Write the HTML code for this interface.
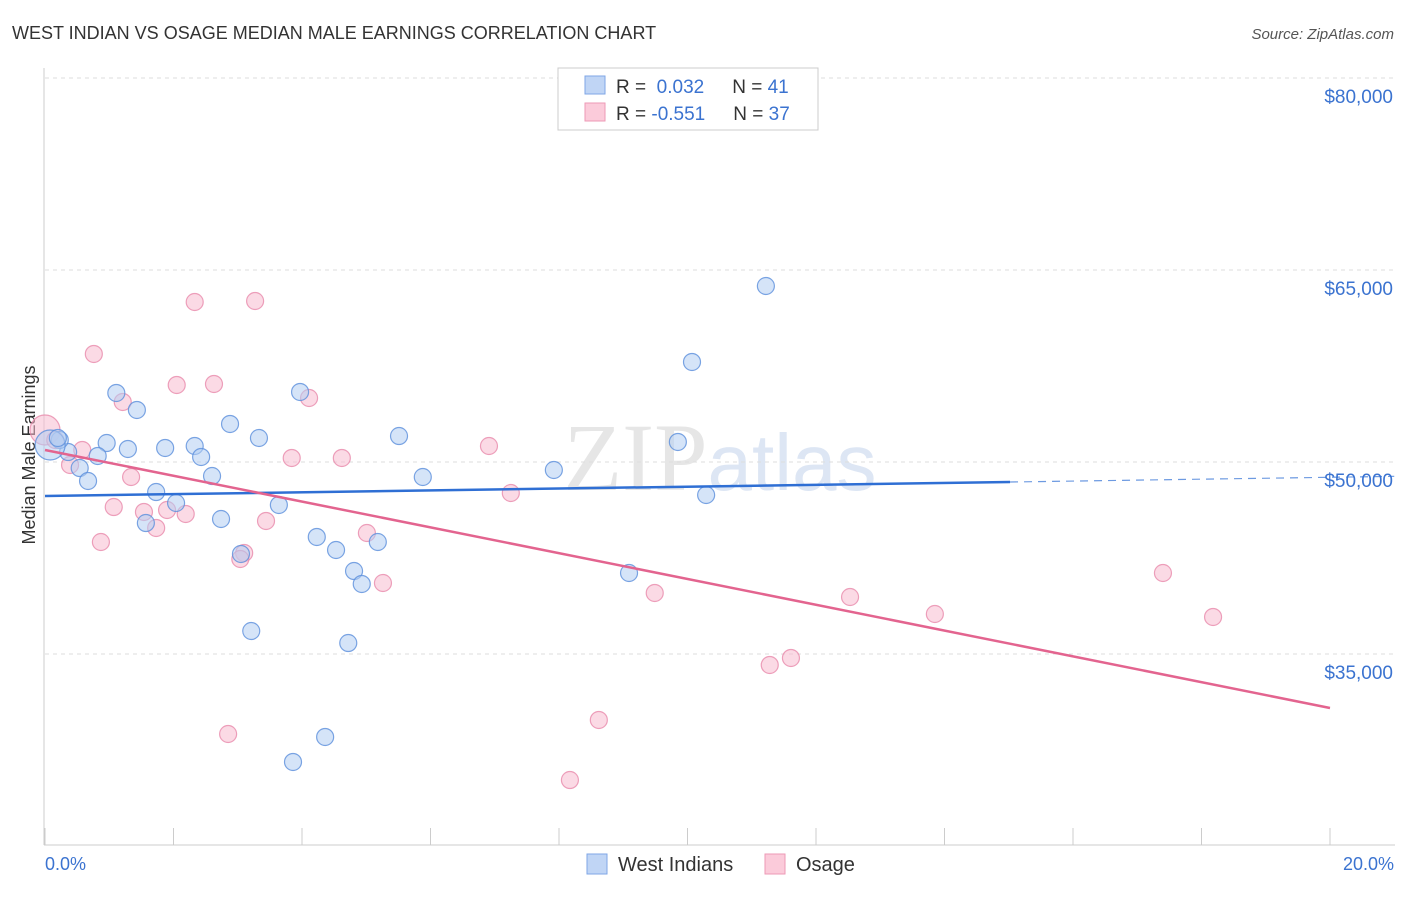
<!DOCTYPE html>
<html><head><meta charset="utf-8"><style>
body{margin:0;background:#fff;font-family:"Liberation Sans",sans-serif}
</style></head><body>
<svg id="c" width="1406" height="892" xmlns="http://www.w3.org/2000/svg" font-family="Liberation Sans, sans-serif">
<text x="12" y="39" font-size="18" fill="#333">WEST INDIAN VS OSAGE MEDIAN MALE EARNINGS CORRELATION CHART</text>
<text x="1394" y="39" font-size="15" fill="#555" text-anchor="end" font-style="italic">Source: ZipAtlas.com</text>
<text x="720" y="490" font-size="96" fill="#e6e6e6" text-anchor="middle" font-family="Liberation Serif, serif">ZIP<tspan fill="#dde6f4" font-family="Liberation Sans, sans-serif" font-size="80">atlas</tspan></text>
<g id="grid"></g>
<line x1="44" y1="68" x2="44" y2="845" stroke="#ccc"/>
<line x1="44" y1="845" x2="1395" y2="845" stroke="#ccc"/>
<g id="ticks"></g>
<text x="35" y="455" font-size="18" fill="#333" text-anchor="middle" transform="rotate(-90 35 455)">Median Male Earnings</text>
<text x="45" y="870" font-size="18" fill="#3b73d0">0.0%</text>
<text x="1394" y="870" font-size="18" fill="#3b73d0" text-anchor="end">20.0%</text>
<g id="pts"></g>
<g id="trend"></g>
<g>
<rect x="558" y="68" width="260" height="62" fill="#fff" stroke="#ccc"/>
<rect x="585" y="76" width="20" height="18" fill="#c0d5f5" stroke="#7fa6e6"/>
<rect x="585" y="103" width="20" height="18" fill="#fbcbda" stroke="#ee9ab6"/>
<text x="616" y="93" font-size="19" fill="#333">R = <tspan fill="#3b73d0">&#160;0.032</tspan><tspan dx="28">N = </tspan><tspan fill="#3b73d0">41</tspan></text>
<text x="616" y="120" font-size="19" fill="#333">R = <tspan fill="#3b73d0">-0.551</tspan><tspan dx="28">N = </tspan><tspan fill="#3b73d0">37</tspan></text>
</g>
<g>
<rect x="587" y="854" width="20" height="20" fill="#c0d5f5" stroke="#7fa6e6"/>
<text x="618" y="871" font-size="20" fill="#333">West Indians</text>
<rect x="765" y="854" width="20" height="20" fill="#fbcbda" stroke="#ee9ab6"/>
<text x="796" y="871" font-size="20" fill="#333">Osage</text>
</g>
</svg>
<script>
const yTicks=[80000,65000,50000,35000];
const yTickLabels=["$80,000","$65,000","$50,000","$35,000"];
const xTicks=[0,2,4,6,8,10,12,14,16,18,20];
const blueX=[1.11,1.43,0.96,1.29,1.87,2.33,2.43,2.88,3.33,3.97,5.51,0.36,0.82,0.54,0.67,1.73,2.60,2.04,1.57,2.74,3.64,4.23,4.53,5.18,4.81,4.93,3.05,3.21,4.72,3.86,4.36,5.88,7.92,9.09,9.85,10.29,10.07,11.22,0.23,0.08,0.20];
const blueY=[55391,54063,51484,51016,51094,51250,50391,52969,51875,55469,52031,50781,50469,49531,48516,47656,48906,46797,45234,45547,46641,44141,43125,43750,41484,40469,42813,36797,35859,26563,28516,48828,49375,41328,51563,47422,57813,63750,51719,51328,51875];
const pinkX=[0.76,2.33,3.27,2.05,2.63,1.21,4.11,0.58,0.39,1.34,1.07,1.54,1.90,2.19,1.73,0.87,3.44,3.84,4.62,3.10,3.04,5.01,5.26,6.91,7.25,9.49,12.53,13.85,17.40,18.18,11.28,11.61,8.62,2.85,8.17,0.00,0.16];
const pinkY=[58438,62500,62578,56016,56094,54688,55000,50938,49766,48828,46484,46094,46250,45938,44844,43750,45391,50313,50313,42891,42422,44453,40547,51250,47578,39766,39453,38125,41328,37891,34141,34688,29844,28750,25156,52500,51719];
const blueTrend=[[0,47344],[15.02,48437],[21,48880]];
const pinkTrend=[[0,50938],[20,30781]];
const NS="http://www.w3.org/2000/svg";
const X=v=>45+v*64.25, Y=v=>78+(80000-v)*0.0128;
function mk(t,a,p){const e=document.createElementNS(NS,t);for(const k in a)e.setAttribute(k,a[k]);p.appendChild(e);return e;}
const grid=document.getElementById('grid');
yTicks.forEach((t,i)=>{
 const l=mk('line',{x1:45,x2:1395,y1:Y(t),y2:Y(t),stroke:'#ddd','stroke-dasharray':'4,4'},grid);
 
 
 const tx=mk('text',{x:1393,y:Y(t)+25,'font-size':19,fill:'#3b73d0','text-anchor':'end'},grid);
 tx.textContent=yTickLabels[i];
 
 
});
const ticks=document.getElementById('ticks');
xTicks.forEach(t=>{
 const l=mk('line',{x1:X(t),x2:X(t),y1:828,y2:845,stroke:'#ccc'},ticks);
 
 
});
const pts=document.getElementById('pts');
function dots(xs,ys,fill,stroke,name){
 xs.forEach((v,i)=>{
  const big=(v<0.1);
  const c=mk('circle',{cx:X(v),cy:Y(ys[i]),r:big?15:8.5,fill:fill,'fill-opacity':0.55,stroke:stroke,'stroke-opacity':0.8,'stroke-width':1.2},pts);
  
  
 });
}
dots(pinkX,pinkY,'#f8bcd0','#e98aab','osage-point');
dots(blueX,blueY,'#b3cdf2','#5b8fdc','west-indian-point');
const tr=document.getElementById('trend');
let a=mk('line',{x1:X(blueTrend[0][0]),y1:Y(blueTrend[0][1]),x2:X(blueTrend[1][0]),y2:Y(blueTrend[1][1]),stroke:'#2f6fd4','stroke-width':2.5},tr);


a=mk('line',{x1:X(blueTrend[1][0]),y1:Y(blueTrend[1][1]),x2:X(blueTrend[2][0]),y2:Y(blueTrend[2][1]),stroke:'#2f6fd4','stroke-width':1.2,'stroke-dasharray':'8,6','stroke-opacity':0.7},tr);


a=mk('line',{x1:X(pinkTrend[0][0]),y1:Y(pinkTrend[0][1]),x2:X(pinkTrend[1][0]),y2:Y(pinkTrend[1][1]),stroke:'#e3648f','stroke-width':2.5},tr);


</script>
</body></html>
